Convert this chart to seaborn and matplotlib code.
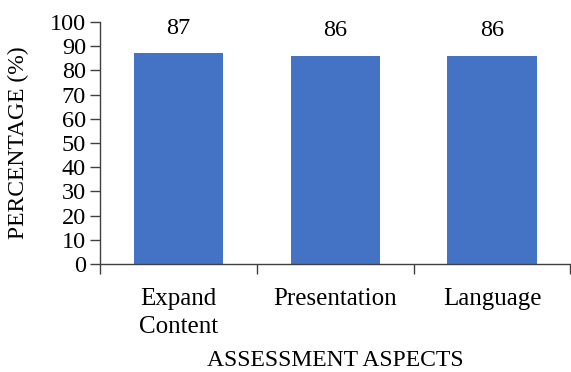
import matplotlib
matplotlib.use("Agg")
import matplotlib.pyplot as plt
import seaborn as sns
import pandas as pd
from matplotlib.ticker import FixedLocator, NullFormatter

aspects = ["Expand\nContent", "Presentation", "Language"]
percentages = [87, 86, 86]
y_ticks = [0, 10, 20, 30, 40, 50, 60, 70, 80, 90, 100]

df = pd.DataFrame({"aspect": aspects, "pct": percentages})

sns.set_theme(style="white")
plt.rcParams["font.family"] = ["Liberation Serif", "DejaVu Serif"]

fig = plt.figure(figsize=(5.71, 3.72), dpi=100)
ax = fig.add_axes([0.1751, 0.2903, 0.824, 0.6506])

sns.barplot(data=df, x="aspect", y="pct", color="#4472C4", saturation=1,
            width=0.57, ax=ax, edgecolor="none")

ax.set_ylim(0, 100)
ax.set_xlim(-0.5, 2.5)
ax.set_yticks(y_ticks)
ax.tick_params(axis="y", labelsize=17.5, length=7, width=1, color="#404040",
               direction="out", pad=3, left=True, labelcolor="black")

# category boundaries carry the x tick marks; labels sit at bar centres
ax.xaxis.set_minor_locator(FixedLocator([-0.5, 0.5, 1.5, 2.5]))
ax.xaxis.set_minor_formatter(NullFormatter())
ax.tick_params(axis="x", which="minor", length=7, width=1, color="#404040",
               direction="out", bottom=True)
ax.tick_params(axis="x", which="major", length=0, labelsize=18, pad=17,
               labelcolor="black")
for lbl in ax.get_xticklabels():
    lbl.set_linespacing(1.4)

for side in ["top", "right"]:
    ax.spines[side].set_visible(False)
for side in ["left", "bottom"]:
    ax.spines[side].set_color("#404040")
    ax.spines[side].set_linewidth(1)

for i, v in enumerate(percentages):
    ax.text(i, v + 6, f"{v}", ha="center", va="bottom", fontsize=17.5,
            color="black")

ax.set_xlabel("ASSESSMENT ASPECTS", fontsize=17, labelpad=8, color="black")
ax.set_ylabel("PERCENTAGE (%)", fontsize=17, labelpad=15, color="black")

fig.savefig("out.png", dpi=100, facecolor="white")
